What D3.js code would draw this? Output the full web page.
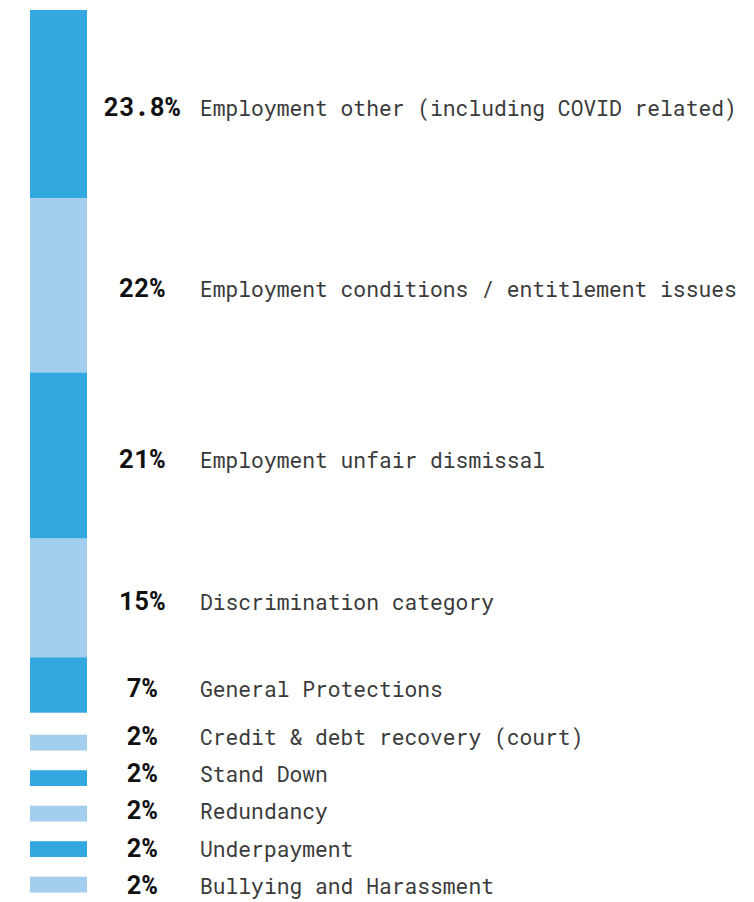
<!DOCTYPE html>
<html>
<head>
<meta charset="utf-8">
<script src="https://cdn.jsdelivr.net/npm/d3@7"></script>
<style>
  body { margin: 0; background: #fff; }
  .pct { font-family: "Roboto Mono", "DejaVu Sans Mono", monospace; font-weight: 700; font-size: 25.5px; fill: #111; }
  .cat { font-family: "Roboto Mono", "DejaVu Sans Mono", monospace; font-weight: 400; font-size: 21.3px; fill: #3a3a3a; }
</style>
</head>
<body>
<div id="chart"></div>
<script>
// stacked categories (top block)
const stackCategories = [
  'Employment other (including COVID related)',
  'Employment conditions / entitlement issues',
  'Employment unfair dismissal',
  'Discrimination category',
  'General Protections'
];
const stackValues = [23.8, 22, 21, 15, 7];

// small categories (separate bars)
const smallCategories = [
  'Credit & debt recovery (court)',
  'Stand Down',
  'Redundancy',
  'Underpayment',
  'Bullying and Harassment'
];
const smallValues = [2, 2, 2, 2, 2];

const pctLabels = ['23.8%', '22%', '21%', '15%', '7%', '2%', '2%', '2%', '2%', '2%'];

const colors = ['#33a8e0', '#a4ceee'];

const width = 754, height = 902;
const barX = 30, barW = 57;
const pctX = 142, catX = 200;
const topY = 10;

const svg = d3.select('#chart').append('svg')
    .attr('width', width)
    .attr('height', height);

// px per percent
const stackTotal = d3.sum(stackValues);
const h = d3.scaleLinear()
    .domain([0, stackTotal])
    .range([0, 702.7]);

// Stacked block
const stackData = stackValues.map((v, i) => ({
    value: v,
    cat: stackCategories[i],
    label: pctLabels[i],
    y0: d3.sum(stackValues.slice(0, i)),
    i: i
}));

const stackBottom = topY + h(stackTotal);

svg.append('g').selectAll('rect')
    .data(stackData)
    .enter().append('rect')
    .attr('x', barX)
    .attr('y', d => topY + h(d.y0))
    .attr('width', barW)
    .attr('height', d => h(d.value))
    .attr('fill', d => colors[d.i % 2]);

const stackLabelY = d => topY + h(d.y0) + h(d.value) / 2 + 12;

const sg = svg.append('g');
sg.selectAll('.pct')
    .data(stackData)
    .enter().append('text')
    .attr('class', 'pct')
    .attr('x', pctX)
    .attr('y', stackLabelY)
    .attr('text-anchor', 'middle')
    .text(d => d.label);

sg.selectAll('.cat')
    .data(stackData)
    .enter().append('text')
    .attr('class', 'cat')
    .attr('x', catX)
    .attr('y', stackLabelY)
    .text(d => d.cat);

// Small bars
const smallData = smallValues.map((v, i) => ({
    value: v,
    cat: smallCategories[i],
    label: pctLabels[stackValues.length + i],
    i: i
}));

const barStep = 35.5, labelStep = 37.3;

svg.append('g').selectAll('rect')
    .data(smallData)
    .enter().append('rect')
    .attr('x', barX)
    .attr('y', d => stackBottom + 22 + d.i * barStep)
    .attr('width', barW)
    .attr('height', d => h(d.value))
    .attr('fill', d => colors[(d.i + 1) % 2]);

const smallLabelY = d => stackBottom + 24 + d.i * labelStep + 8;

const lg = svg.append('g');
lg.selectAll('.pct')
    .data(smallData)
    .enter().append('text')
    .attr('class', 'pct')
    .attr('x', pctX)
    .attr('y', smallLabelY)
    .attr('text-anchor', 'middle')
    .text(d => d.label);

lg.selectAll('.cat')
    .data(smallData)
    .enter().append('text')
    .attr('class', 'cat')
    .attr('x', catX)
    .attr('y', smallLabelY)
    .text(d => d.cat);
</script>
</body>
</html>
